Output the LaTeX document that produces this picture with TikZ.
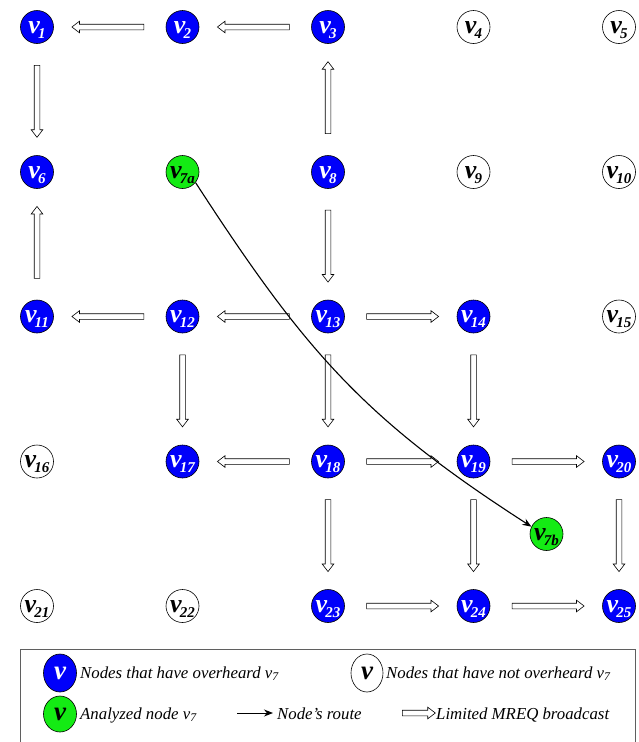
\documentclass[tikz,border=0pt]{standalone}
\usepackage{fontspec}
\setmainfont{Liberation Serif}
\usetikzlibrary{shapes.arrows,shapes.geometric,arrows.meta}

\definecolor{heardblue}{RGB}{0,0,250}
\definecolor{probegreen}{RGB}{20,235,20}
\definecolor{framegray}{RGB}{95,95,95}

% vertex label: bold italic v with a subscript, kept out of the node size
\newcommand\vname[1]{\smash{\makebox[0pt]{\raisebox{-6pt}{\fontsize{26}{26}\selectfont\bfseries\itshape v\kern-2pt\raisebox{-5pt}{\fontsize{15}{15}\selectfont #1}}}}}
\newcommand\vbig{\smash{\makebox[0pt]{\raisebox{-6pt}{\fontsize{27}{27}\selectfont\bfseries\itshape v}}}}

\tikzset{
  vtx/.style={circle, draw=black, line width=0.6pt, minimum size=33pt, inner sep=0pt},
  heard/.style={vtx, fill=heardblue, text=white},
  unheard/.style={vtx, fill=white, text=black},
  probe/.style={vtx, fill=probegreen, text=black},
  mreqshape/.style={single arrow, draw=black, line width=0.6pt, fill=white,
    inner xsep=0pt, inner ysep=2.5pt, minimum height=72pt,
    single arrow head extend=3pt, single arrow tip angle=75},
  mreq/.style={to path={(\tikztostart) -- (\tikztotarget)
    node[midway, sloped, allow upside down, mreqshape]{}}},
  route/.style={-{Stealth[length=9pt,width=7pt]}, line width=1.1pt},
  legtext/.style={anchor=base west, inner sep=0pt, font=\fontsize{16.8}{16.8}\selectfont\itshape},
}

\begin{document}
\begin{tikzpicture}[x=1pt,y=-1pt]
\useasboundingbox (0,0) rectangle (638,742);

% grid of vertices
\node[heard]   (v1)  at (37,27)      {\vname{1}};
\node[heard]   (v2)  at (182.5,27)   {\vname{2}};
\node[heard]   (v3)  at (328,27)     {\vname{3}};
\node[unheard] (v4)  at (473.5,27)   {\vname{4}};
\node[unheard] (v5)  at (619,27)     {\vname{5}};

\node[heard]   (v6)  at (37,172)     {\vname{6}};
\node[probe]   (v7a) at (182.5,172)  {\vname{7a}};
\node[heard]   (v8)  at (328,172)    {\vname{8}};
\node[unheard] (v9)  at (473.5,172)  {\vname{9}};
\node[unheard] (v10) at (619,172)    {\vname{10}};

\node[heard]   (v11) at (37,316.5)   {\vname{11}};
\node[heard]   (v12) at (182.5,316.5){\vname{12}};
\node[heard]   (v13) at (328,316.5)  {\vname{13}};
\node[heard]   (v14) at (473.5,316.5){\vname{14}};
\node[unheard] (v15) at (619,316.5)  {\vname{15}};

\node[unheard] (v16) at (37,461.5)   {\vname{16}};
\node[heard]   (v17) at (182.5,461.5){\vname{17}};
\node[heard]   (v18) at (328,461.5)  {\vname{18}};
\node[heard]   (v19) at (473.5,461.5){\vname{19}};
\node[heard]   (v20) at (619,461.5)  {\vname{20}};

\node[unheard] (v21) at (37,606)     {\vname{21}};
\node[unheard] (v22) at (182.5,606)  {\vname{22}};
\node[heard]   (v23) at (328,606)    {\vname{23}};
\node[heard]   (v24) at (473.5,606)  {\vname{24}};
\node[heard]   (v25) at (619,606)    {\vname{25}};

\node[probe]   (v7b) at (546.5,534)  {\vname{7b}};

% limited MREQ broadcast
\path (v2) to[mreq] (v1);
\path (v3) to[mreq] (v2);
\path (v8) to[mreq] (v3);
\path (v1) to[mreq] (v6);
\path (v11) to[mreq] (v6);
\path (v8) to[mreq] (v13);
\path (v12) to[mreq] (v11);
\path (v13) to[mreq] (v12);
\path (v13) to[mreq] (v14);
\path (v12) to[mreq] (v17);
\path (v13) to[mreq] (v18);
\path (v14) to[mreq] (v19);
\path (v18) to[mreq] (v17);
\path (v18) to[mreq] (v19);
\path (v19) to[mreq] (v20);
\path (v18) to[mreq] (v23);
\path (v19) to[mreq] (v24);
\path (v20) to[mreq] (v25);
\path (v23) to[mreq] (v24);
\path (v24) to[mreq] (v25);

% route of the analyzed node
\draw[route] (v7a.-39) .. controls +(109,168) and +(-168,-108) .. (v7b.154);

% legend
\draw[framegray, line width=1pt] (20,649) rectangle (635,760);

\node[heard, ellipse, minimum width=33pt, minimum height=38pt] (keyheard) at (60,673) {\vbig};
\node[legtext] (keyheardtxt) at (80,678) {Nodes that have overheard v\textsubscript{7}};

\node[unheard, ellipse, minimum width=32pt, minimum height=38pt] (keyunheard) at (367,673) {\vbig};
\node[legtext] (keyunheardtxt) at (386,678) {Nodes that have not overheard v\textsubscript{7}};

\node[probe, ellipse, minimum width=33pt, minimum height=36pt] (keyprobe) at (60,714) {\vbig};
\node[legtext] (keyprobetxt) at (80,719) {Analyzed node v\textsubscript{7}};

\coordinate (routeA) at (237,713);
\coordinate (routeB) at (273,713);
\draw[route, line width=1pt] (routeA) -- (routeB);
\node[legtext] (keyroutetxt) at (277,719) {Node's route};

\node[mreqshape, minimum height=33pt] (keymreq) at (417,713) {};
\node[legtext] (keymreqtxt) at (436,719) {Limited MREQ broadcast};
\end{tikzpicture}
\end{document}
